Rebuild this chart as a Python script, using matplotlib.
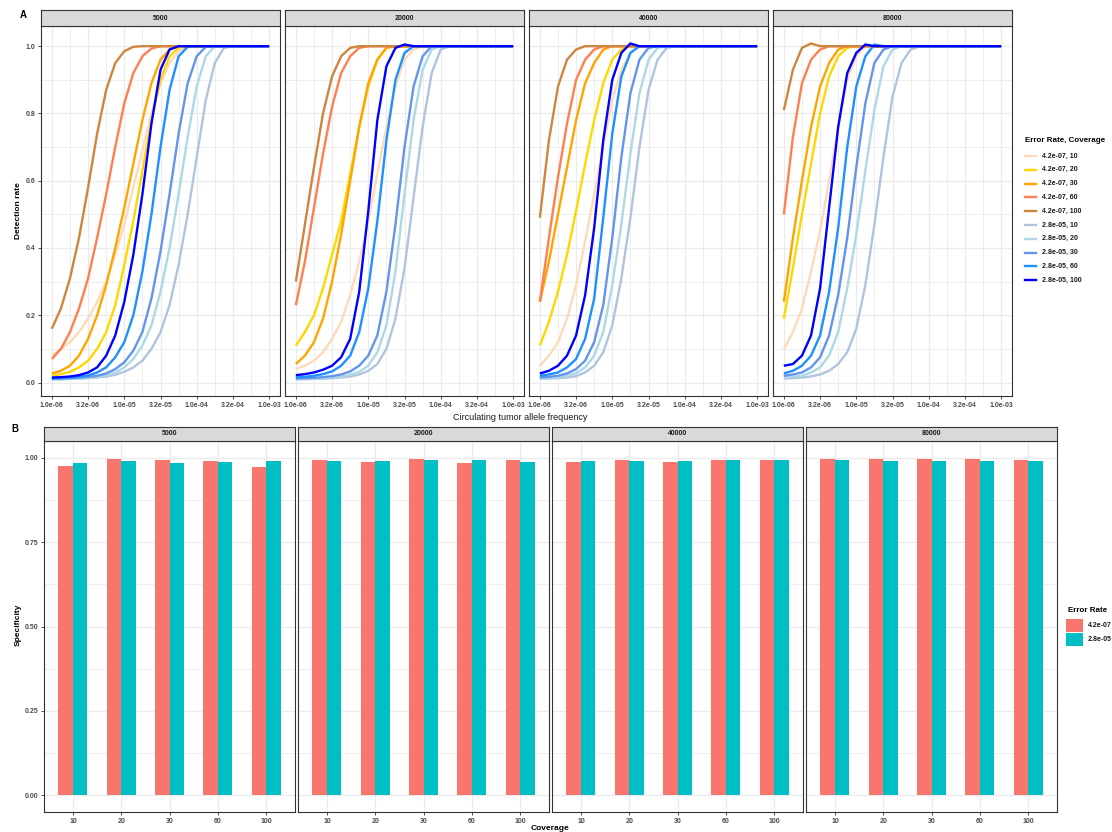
import matplotlib
matplotlib.use('Agg')
import matplotlib.pyplot as plt
from matplotlib.ticker import FixedLocator, NullFormatter, FixedFormatter
from matplotlib.lines import Line2D
from matplotlib.patches import Rectangle

plt.rcParams['font.family'] = ['Liberation Sans', 'DejaVu Sans']

# ---------------- data ----------------
depths = ['5000', '20000', '40000', '80000']
series_labels = ['4.2e-07, 10', '4.2e-07, 20', '4.2e-07, 30', '4.2e-07, 60', '4.2e-07, 100',
                 '2.8e-05, 10', '2.8e-05, 20', '2.8e-05, 30', '2.8e-05, 60', '2.8e-05, 100']
series_colors = ['#FFDAB9', '#FFD700', '#FFA500', '#FF7F50', '#CD853F',
                 '#B0C4DE', '#ADD8E6', '#6495ED', '#1E90FF', '#0000FF']

# sampling positions: log10(allele frequency), step 0.125 from -6 to -3
log_af = [-6.0 + 0.125 * i for i in range(25)]
x_ticklabels = ['1.0e-06', '3.2e-06', '1.0e-05', '3.2e-05', '1.0e-04', '3.2e-04', '1.0e-03']

# detection rate per series (values read at log_af positions until plateau at 1.0)
det_5000 = [
    [0.08, 0.10, 0.12, 0.15, 0.19, 0.24, 0.30, 0.38, 0.47, 0.58, 0.69, 0.80, 0.89, 0.95, 0.985, 0.998, 1.0],
    [0.02, 0.025, 0.032, 0.045, 0.065, 0.10, 0.15, 0.23, 0.35, 0.48, 0.63, 0.78, 0.90, 0.97, 0.995, 1.0],
    [0.027, 0.035, 0.05, 0.08, 0.13, 0.20, 0.29, 0.40, 0.52, 0.65, 0.78, 0.89, 0.96, 0.99, 1.0],
    [0.07, 0.10, 0.15, 0.22, 0.31, 0.43, 0.56, 0.70, 0.83, 0.92, 0.97, 0.993, 1.0],
    [0.16, 0.22, 0.31, 0.43, 0.58, 0.74, 0.87, 0.95, 0.985, 0.998, 1.0],
    [0.01, 0.01, 0.011, 0.012, 0.013, 0.015, 0.018, 0.023, 0.032, 0.045, 0.065, 0.10, 0.15, 0.23, 0.35, 0.50, 0.67, 0.84, 0.95, 0.995, 1.0],
    [0.01, 0.01, 0.011, 0.012, 0.014, 0.017, 0.022, 0.03, 0.045, 0.07, 0.11, 0.17, 0.27, 0.40, 0.56, 0.73, 0.88, 0.97, 1.0],
    [0.012, 0.012, 0.013, 0.015, 0.017, 0.02, 0.027, 0.04, 0.06, 0.095, 0.15, 0.25, 0.39, 0.56, 0.74, 0.89, 0.97, 0.998, 1.0],
    [0.012, 0.013, 0.015, 0.017, 0.021, 0.03, 0.045, 0.075, 0.12, 0.20, 0.33, 0.50, 0.70, 0.87, 0.97, 0.998, 1.0],
    [0.015, 0.016, 0.018, 0.022, 0.03, 0.045, 0.08, 0.14, 0.24, 0.38, 0.56, 0.77, 0.93, 0.99, 1.0],
]
det_20000 = [
    [0.04, 0.05, 0.065, 0.09, 0.13, 0.18, 0.26, 0.36, 0.48, 0.62, 0.76, 0.88, 0.96, 0.99, 1.0],
    [0.11, 0.15, 0.20, 0.28, 0.38, 0.48, 0.62, 0.76, 0.88, 0.96, 0.995, 1.0],
    [0.055, 0.08, 0.12, 0.19, 0.30, 0.44, 0.60, 0.76, 0.89, 0.96, 0.995, 1.0],
    [0.23, 0.36, 0.52, 0.68, 0.82, 0.92, 0.97, 0.995, 1.0],
    [0.30, 0.47, 0.64, 0.80, 0.91, 0.97, 0.995, 1.0],
    [0.01, 0.01, 0.011, 0.012, 0.013, 0.015, 0.018, 0.024, 0.035, 0.055, 0.10, 0.19, 0.34, 0.55, 0.76, 0.92, 0.99, 1.0],
    [0.01, 0.011, 0.012, 0.013, 0.015, 0.018, 0.023, 0.032, 0.05, 0.09, 0.17, 0.33, 0.56, 0.78, 0.93, 0.99, 1.0],
    [0.012, 0.013, 0.014, 0.016, 0.019, 0.024, 0.033, 0.05, 0.08, 0.14, 0.27, 0.47, 0.70, 0.88, 0.97, 1.0],
    [0.015, 0.017, 0.02, 0.025, 0.033, 0.05, 0.08, 0.15, 0.28, 0.48, 0.72, 0.90, 0.98, 1.0],
    [0.022, 0.025, 0.03, 0.038, 0.05, 0.075, 0.13, 0.27, 0.51, 0.78, 0.94, 0.995, 1.005, 1.0],
]
det_40000 = [
    [0.05, 0.08, 0.12, 0.19, 0.29, 0.42, 0.56, 0.70, 0.84, 0.93, 0.98, 1.0],
    [0.11, 0.18, 0.27, 0.38, 0.51, 0.65, 0.78, 0.89, 0.96, 0.99, 1.0],
    [0.24, 0.36, 0.50, 0.64, 0.78, 0.89, 0.95, 0.99, 1.0],
    [0.24, 0.43, 0.61, 0.77, 0.90, 0.96, 0.99, 1.0],
    [0.49, 0.72, 0.88, 0.96, 0.99, 1.0],
    [0.012, 0.012, 0.013, 0.015, 0.019, 0.03, 0.05, 0.09, 0.17, 0.31, 0.49, 0.70, 0.87, 0.96, 0.995, 1.0],
    [0.012, 0.013, 0.015, 0.02, 0.028, 0.045, 0.08, 0.15, 0.29, 0.47, 0.68, 0.86, 0.96, 0.995, 1.0],
    [0.015, 0.017, 0.02, 0.027, 0.04, 0.065, 0.12, 0.23, 0.43, 0.67, 0.86, 0.96, 0.995, 1.0],
    [0.02, 0.024, 0.03, 0.045, 0.07, 0.13, 0.25, 0.49, 0.74, 0.91, 0.98, 1.0],
    [0.027, 0.035, 0.05, 0.08, 0.14, 0.26, 0.46, 0.72, 0.90, 0.98, 1.008, 1.0],
]
det_80000 = [
    [0.10, 0.15, 0.22, 0.33, 0.45, 0.60, 0.76, 0.90, 0.97, 1.0],
    [0.19, 0.34, 0.50, 0.65, 0.80, 0.91, 0.97, 0.995, 1.0],
    [0.24, 0.43, 0.60, 0.76, 0.88, 0.95, 0.99, 1.0],
    [0.50, 0.73, 0.89, 0.96, 0.99, 1.0],
    [0.81, 0.93, 0.995, 1.008, 1.0],
    [0.012, 0.013, 0.015, 0.018, 0.024, 0.035, 0.055, 0.09, 0.16, 0.29, 0.47, 0.67, 0.85, 0.95, 0.99, 1.0],
    [0.015, 0.017, 0.02, 0.03, 0.045, 0.08, 0.15, 0.28, 0.44, 0.63, 0.81, 0.94, 0.99, 1.0],
    [0.02, 0.024, 0.03, 0.045, 0.075, 0.14, 0.26, 0.43, 0.64, 0.83, 0.95, 0.99, 1.0],
    [0.027, 0.035, 0.05, 0.08, 0.14, 0.27, 0.46, 0.70, 0.88, 0.97, 1.005, 1.0],
    [0.05, 0.055, 0.08, 0.14, 0.28, 0.52, 0.76, 0.92, 0.98, 1.005, 1.0],
]
det_panels = [det_5000, det_20000, det_40000, det_80000]

# specificity
coverage = ['10', '20', '30', '60', '100']
err_labels = ['4.2e-07', '2.8e-05']
err_colors = ['#F8766D', '#00BFC4']
spec_low_err = {  # 4.2e-07
    '5000':  [0.977, 0.998, 0.995, 0.992, 0.974],
    '20000': [0.995, 0.987, 0.998, 0.984, 0.993],
    '40000': [0.988, 0.993, 0.988, 0.994, 0.993],
    '80000': [0.996, 0.996, 0.996, 0.996, 0.993],
}
spec_high_err = {  # 2.8e-05
    '5000':  [0.986, 0.992, 0.986, 0.989, 0.992],
    '20000': [0.990, 0.990, 0.993, 0.993, 0.987],
    '40000': [0.990, 0.990, 0.990, 0.994, 0.994],
    '80000': [0.994, 0.990, 0.991, 0.990, 0.990],
}

# ---------------- figure ----------------
W, H = 1112, 832
fig = plt.figure(figsize=(W / 100, H / 100), dpi=100)
fig.patch.set_facecolor('white')

BORDER = '#333333'
GRID = '#EBEBEB'
TICKC = '#4D4D4D'
FS_TICK = 5.0


def ax_px(x0, y0, w, h, **kw):
    return fig.add_axes([x0 / W, 1 - (y0 + h) / H, w / W, h / H], **kw)


def style_axes(ax):
    for s in ax.spines.values():
        s.set_color(BORDER)
        s.set_linewidth(0.8)
    ax.set_facecolor('white')
    ax.tick_params(which='major', length=2.5, width=0.6, color=BORDER,
                   labelsize=FS_TICK, labelcolor=TICKC, pad=1.5)
    ax.tick_params(which='minor', length=0)
    for lab in ax.get_xticklabels() + ax.get_yticklabels():
        lab.set_fontweight('bold')


def strip(x0, y0, w, h, text):
    sa = ax_px(x0, y0, w, h)
    sa.set_facecolor('#D9D9D9')
    for s in sa.spines.values():
        s.set_color(BORDER)
        s.set_linewidth(0.8)
    sa.set_xticks([])
    sa.set_yticks([])
    sa.text(0.5, 0.5, text, ha='center', va='center', fontsize=5, color='#1A1A1A',
            fontweight='bold', transform=sa.transAxes)


# ---- Panel A ----
A_left = [41, 285, 529, 773]
A_w = 239
A_top, A_h = 26, 370
maj = [10 ** (-6 + 0.5 * k) for k in range(7)]
mnr = [10 ** (-5.75 + 0.5 * k) for k in range(6)]
for pi, dep in enumerate(depths):
    ax = ax_px(A_left[pi], A_top, A_w, A_h)
    ax.set_xscale('log')
    ax.set_xlim(10 ** -6.15, 10 ** -2.85)
    ax.set_ylim(-0.04, 1.06)
    ax.xaxis.set_major_locator(FixedLocator(maj))
    ax.xaxis.set_major_formatter(FixedFormatter(x_ticklabels))
    ax.xaxis.set_minor_locator(FixedLocator(mnr))
    ax.xaxis.set_minor_formatter(NullFormatter())
    ax.yaxis.set_major_locator(FixedLocator([0.0, 0.2, 0.4, 0.6, 0.8, 1.0]))
    ax.yaxis.set_minor_locator(FixedLocator([0.1, 0.3, 0.5, 0.7, 0.9]))
    ax.grid(True, which='major', color=GRID, lw=0.9, zorder=0)
    ax.grid(True, which='minor', color=GRID, lw=0.6, zorder=0)
    ax.set_axisbelow(True)
    for si, vals in enumerate(det_panels[pi]):
        xs = [10 ** v for v in log_af[:len(vals)]] + [1e-3]
        ys = list(vals) + [vals[-1]]
        ax.plot(xs, ys, color=series_colors[si], lw=1.7, solid_capstyle='butt',
                solid_joinstyle='round', zorder=2 + si)
    if pi == 0:
        ax.yaxis.set_major_formatter(FixedFormatter(['0.0', '0.2', '0.4', '0.6', '0.8', '1.0']))
    else:
        ax.tick_params(axis='y', which='both', left=False, labelleft=False)
    style_axes(ax)
    strip(A_left[pi], 10, A_w, 16, dep)

fig.text(20 / W, 1 - 15 / H, 'A', fontsize=7, fontweight='bold', ha='left', va='center')
fig.text(18 / W, 1 - 211 / H, 'Detection rate', fontsize=6, fontweight='bold',
         rotation=90, ha='center', va='center')
fig.text(520 / W, 1 - 418 / H, 'Circulating tumor allele frequency', fontsize=6.5,
         ha='center', va='center', color='#1A1A1A')

# ---- Panel B ----
B_left = [44, 298, 552, 806]
B_w = 251
B_top, B_h = 441, 371
for pi, dep in enumerate(depths):
    ax = ax_px(B_left[pi], B_top, B_w, B_h)
    ax.set_xlim(0.4, 5.6)
    ax.set_ylim(-0.05, 1.05)
    pos = list(range(1, len(coverage) + 1))
    ax.bar([p - 0.15 for p in pos], spec_low_err[dep], width=0.3, color=err_colors[0], zorder=2)
    ax.bar([p + 0.15 for p in pos], spec_high_err[dep], width=0.3, color=err_colors[1], zorder=2)
    ax.xaxis.set_major_locator(FixedLocator(pos))
    ax.xaxis.set_major_formatter(FixedFormatter(coverage))
    ax.yaxis.set_major_locator(FixedLocator([0.0, 0.25, 0.5, 0.75, 1.0]))
    ax.yaxis.set_minor_locator(FixedLocator([0.125, 0.375, 0.625, 0.875]))
    ax.grid(True, which='major', color=GRID, lw=0.9, zorder=0)
    ax.grid(True, which='minor', axis='y', color=GRID, lw=0.6, zorder=0)
    ax.set_axisbelow(True)
    if pi == 0:
        ax.yaxis.set_major_formatter(FixedFormatter(['0.00', '0.25', '0.50', '0.75', '1.00']))
    else:
        ax.tick_params(axis='y', which='both', left=False, labelleft=False)
    style_axes(ax)
    strip(B_left[pi], 427, B_w, 14, dep)

fig.text(11 / W, 1 - 429 / H, 'B', fontsize=7, fontweight='bold', ha='left', va='center')
fig.text(18 / W, 1 - 625 / H, 'Specificity', fontsize=6, fontweight='bold',
         rotation=90, ha='center', va='center')
fig.text(550 / W, 1 - 828 / H, 'Coverage', fontsize=6, fontweight='bold',
         ha='center', va='center')

# ---- legends (drawn in pixel space) ----
lg = ax_px(0, 0, W, H)
lg.set_xlim(0, W)
lg.set_ylim(H, 0)
lg.axis('off')
lg.patch.set_alpha(0)
lg.text(1025, 140, 'Error Rate, Coverage', fontsize=5.8, fontweight='bold', ha='left', va='center')
for i, (lab, col) in enumerate(zip(series_labels, series_colors)):
    yy = 156 + i * 13.8
    lg.add_line(Line2D([1025, 1036], [yy, yy], color=col, lw=1.7))
    lg.text(1042, yy, lab, fontsize=5, fontweight='bold', ha='left', va='center', color='#1A1A1A')

lg.text(1068, 611, 'Error Rate', fontsize=5.8, fontweight='bold', ha='left', va='center')
for i, (lab, col) in enumerate(zip(err_labels, err_colors)):
    y0 = 619 + i * 14
    lg.add_patch(Rectangle((1066, y0), 17, 13, facecolor=col, edgecolor='none'))
    lg.text(1088, y0 + 6.5, lab, fontsize=5, fontweight='bold', ha='left', va='center', color='#1A1A1A')

fig.savefig('out.png', dpi=100, facecolor='white')
